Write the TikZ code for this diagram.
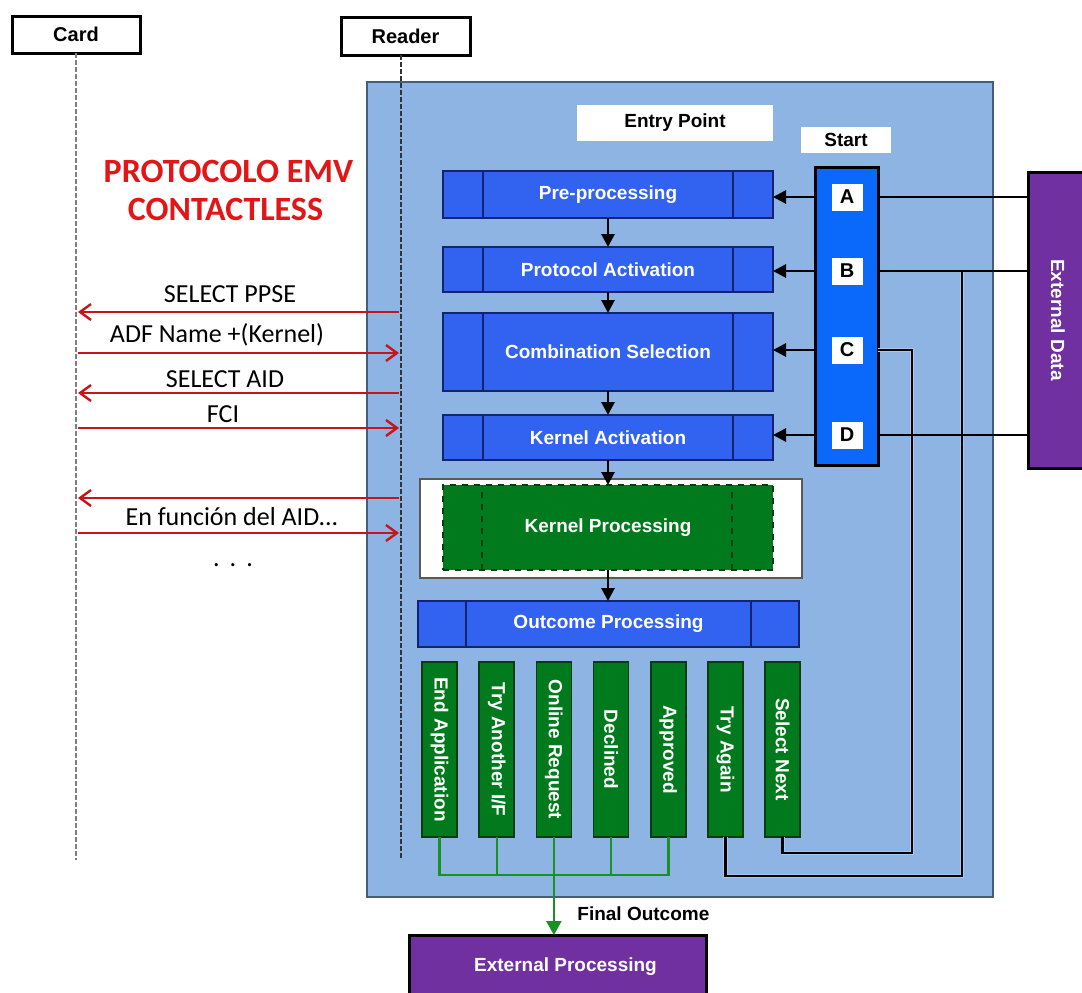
\documentclass[tikz,border=0pt]{standalone}
\usepackage{fontspec}
\usepackage{graphicx}
\setmainfont{Liberation Sans}
\newfontfamily\calibrifont{Carlito}
\usetikzlibrary{arrows.meta}

\definecolor{panelblue}{RGB}{141,180,226}
\definecolor{paneledge}{RGB}{70,92,125}
\definecolor{stageblue}{RGB}{50,98,240}
\definecolor{stageedge}{RGB}{18,36,110}
\definecolor{startblue}{RGB}{10,105,250}
\definecolor{kgreen}{RGB}{0,122,28}
\definecolor{kedge}{RGB}{10,60,15}
\definecolor{outpurple}{RGB}{112,48,160}
\definecolor{msgred}{RGB}{200,20,25}
\definecolor{titlered}{RGB}{226,22,22}
\definecolor{linkgreen}{RGB}{25,145,35}
\definecolor{wirehalo}{RGB}{168,198,236}

\newcommand\stagefont{\fontsize{9.5}{11}\selectfont\bfseries}

\begin{document}
\begin{tikzpicture}[x=0.5pt,y=-0.5pt,
  box/.style={inner sep=0pt,outer sep=0pt},
  lifebox/.style={box,draw=black,line width=1.5pt,fill=white,font=\fontsize{10}{12}\selectfont\bfseries},
  lifeline/.style={dash pattern=on 2.5pt off 1pt},
  stage/.style={box,draw=stageedge,line width=0.8pt,fill=stageblue,text=white,font=\stagefont,minimum width=165pt,
    path picture={\draw[stageedge,line width=0.8pt]
      ([xshift=#1]path picture bounding box.south west) -- ([xshift=#1]path picture bounding box.north west)
      ([xshift=-#1]path picture bounding box.south east) -- ([xshift=-#1]path picture bounding box.north east);}},
  stage/.default=20pt,
  tag/.style={box,fill=white,font=\stagefont,text=black},
  letter/.style={box,fill=white,minimum width=15.5pt,minimum height=13.5pt,font=\fontsize{10}{12}\selectfont\bfseries},
  outcol/.style={box,draw=kedge,line width=0.8pt,fill=kgreen,minimum width=17.5pt,minimum height=87.5pt,text=white,font=\stagefont},
  extbox/.style={box,draw=black,line width=1.5pt,fill=outpurple,text=white,font=\stagefont},
  flow/.style={line width=1.4pt,-{Triangle[length=6.5pt,width=6.5pt]}},
  wire/.style={line width=1.4pt},
  loopwire/.style={wire,preaction={draw=wirehalo,line width=2.2pt}},
  msg/.style={draw=msgred,line width=1.2pt,-{Straight Barb[length=5.5pt,width=8pt]}},
  msglabel/.style={font=\calibrifont\fontsize{13}{15}\selectfont,inner sep=0pt,anchor=base},
  titletext/.style={font=\calibrifont\bfseries\fontsize{17}{19}\selectfont,text=titlered,inner sep=0pt,anchor=base},
  greenwire/.style={draw=linkgreen,line width=1.2pt}
]
\clip (0,0) rectangle (1082,992);
\fill[white] (0,0) rectangle (1082,992);

% participants of the exchange
\node[lifebox,minimum width=64pt,minimum height=18.5pt] (card) at (76,34.5) {Card};
\node[lifebox,minimum width=64.5pt,minimum height=19pt] (reader) at (405.5,36) {Reader};

% entry point frame
\node[box,draw=paneledge,line width=0.6pt,fill=panelblue,minimum width=313pt,minimum height=407.5pt] (panel) at (680,489.5) {};

% lifelines
\coordinate (cardend) at (76,860);
\coordinate (readtop) at (401,55);
\coordinate (readend) at (401,858);
\draw[lifeline,black!50,line width=0.9pt] (card.south) -- (cardend);
\draw[lifeline,black!80,line width=1pt] (readtop) -- (readend);

% title
\node[titletext] (title1) at (228.5,182) {PROTOCOLO EMV};
\node[titletext] (title2) at (225.5,220) {CONTACTLESS};

% card <-> reader messages
\foreach \n/\y in {1/312,2/353,3/393,4/428,5/498,6/533} {
  \coordinate (c\n) at (78,\y);
  \coordinate (r\n) at (399,\y);
}
\draw[msg] (r1) -- (c1);
\draw[msg] (c2) -- (r2);
\draw[msg] (r3) -- (c3);
\draw[msg] (c4) -- (r4);
\draw[msg] (r5) -- (c5);
\draw[msg] (c6) -- (r6);
\node[msglabel] (l1) at (230,302) {SELECT PPSE};
\node[msglabel] (l2) at (217,342) {ADF Name +(Kernel)};
\node[msglabel] (l3) at (225,387) {SELECT AID};
\node[msglabel] (l4) at (223,422) {FCI};
\node[msglabel] (l6) at (232,525) {En función del AID...};
\node[msglabel] (dots) at (233,566) {.\hspace{5pt}.\hspace{5pt}.};

% entry point stages
\node[tag,minimum width=98pt,minimum height=18pt] (entry) at (675,123) {Entry Point};
\node[tag,minimum width=45pt,minimum height=13pt] (startlbl) at (846,140) {Start};
\node[stage,minimum height=23.5pt] (pre) at (608,194.5) {Pre-processing};
\node[stage,minimum height=22.5pt] (proto) at (608,269.5) {Protocol Activation};
\node[stage,minimum height=39pt] (comb) at (608,352) {Combination Selection};
\node[stage,minimum height=22.5pt] (kact) at (608,437.5) {Kernel Activation};

% start column
\node[box,draw=black,line width=1.5pt,fill=startblue,minimum width=31.5pt,minimum height=149pt] (start) at (846.5,316) {};
\node[letter] (A) at (847,197) {A};
\node[letter] (B) at (847,271) {B};
\node[letter] (C) at (847,350) {C};
\node[letter] (D) at (847,435) {D};

% external data
\node[extbox,minimum width=30pt,minimum height=148pt] (extdata) at (1058,320) {\rotatebox{-90}{External Data}};

% kernel processing
\node[box,draw=black!65,line width=0.6pt,fill=white,minimum width=191pt,minimum height=49.5pt] (kframe) at (611,528.5) {};
\node[box,draw=kedge,dashed,line width=0.8pt,fill=kgreen,text=white,font=\stagefont,minimum width=165pt,minimum height=42.5pt,
  path picture={\draw[kedge,dashed,line width=0.8pt]
    ([xshift=19.5pt]path picture bounding box.south west) -- ([xshift=19.5pt]path picture bounding box.north west)
    ([xshift=-20.5pt]path picture bounding box.south east) -- ([xshift=-20.5pt]path picture bounding box.north east);}]
  (kernel) at (608,527.5) {Kernel Processing};

% outcome processing
\node[stage=24pt,minimum width=190.5pt,minimum height=23pt] (outcome) at (608.5,624) {Outcome Processing};

% outcomes
\node[outcol] (endapp) at (439.5,749.5) {\rotatebox{-90}{End Application}};
\node[outcol] (tryif) at (496.7,749.5) {\rotatebox{-90}{Try Another I/F}};
\node[outcol] (online) at (553.9,749.5) {\rotatebox{-90}{Online Request}};
\node[outcol] (declined) at (611.1,749.5) {\rotatebox{-90}{Declined}};
\node[outcol] (approved) at (668.3,749.5) {\rotatebox{-90}{Approved}};
\node[outcol] (tryagain) at (725.5,749.5) {\rotatebox{-90}{Try Again}};
\node[outcol] (selnext) at (782.7,749.5) {\rotatebox{-90}{Select Next}};

% external processing
\node[extbox,minimum width=148.5pt,minimum height=32pt] (extproc) at (557.5,967) {\hspace*{8pt}External Processing};
\node[font=\stagefont,anchor=west,inner sep=0pt] (final) at (577,914) {Final Outcome};

% stage flow
\draw[flow] (pre.south) -- (proto.north);
\draw[flow] (proto.south) -- (comb.north);
\draw[flow] (comb.south) -- (kact.north);
\draw[flow] (kact.south) -- (kernel.north);
\draw[flow] (kernel.south) -- (kernel.south |- outcome.north);

% start entries
\draw[flow] (start.west |- A) -- (pre.east |- A);
\draw[flow] (start.west |- B) -- (proto.east |- B);
\draw[flow] (start.west |- C) -- (comb.east |- C);
\draw[flow] (start.west |- D) -- (kact.east |- D);

% restart loops back to the start column
\coordinate (cturn) at (912,853);
\coordinate (bturn) at (962,876);
\draw[loopwire] (start.east |- C) -| (cturn) -| (selnext.south);
\draw[loopwire] (tryagain.south) |- (bturn) -- (bturn |- B);

% external data links
\draw[wire] (start.east |- A) -- (extdata.west |- A);
\draw[wire] (start.east |- B) -- (extdata.west |- B);
\draw[wire] (start.east |- D) -- (extdata.west |- D);

% final outcome collection
\coordinate (gbar) at (611,875);
\draw[greenwire] (endapp.south) |- (approved.south |- gbar) -- (approved.south);
\draw[greenwire] (tryif.south) -- (tryif.south |- gbar);
\draw[greenwire] (declined.south) -- (declined.south |- gbar);
\draw[greenwire,-{Triangle[length=7pt,width=7.5pt]}] (online.south) -- (online.south |- extproc.north);
\end{tikzpicture}
\end{document}
